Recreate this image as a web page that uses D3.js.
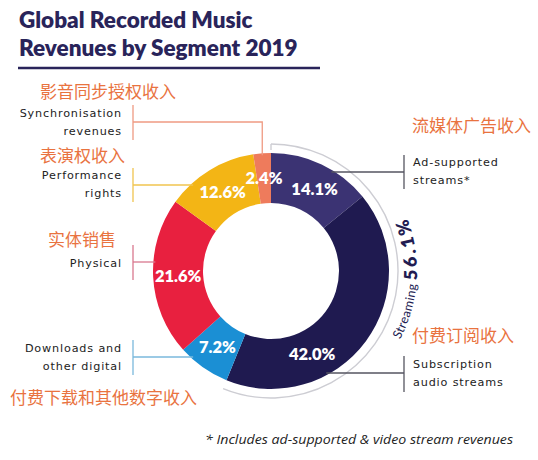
<!DOCTYPE html>
<html>
<head>
<meta charset="utf-8">
<script src="https://cdn.jsdelivr.net/npm/d3@7"></script>
<style>
  html, body { margin: 0; padding: 0; background: #ffffff; }
  svg { display: block; }
</style>
</head>
<body>
<svg id="chart" width="538" height="460"></svg>
<script>
// ---------------- DATA ----------------
const categories = [
  "Ad-supported streams*",
  "Subscription audio streams",
  "Downloads and other digital",
  "Physical",
  "Performance rights",
  "Synchronisation revenues"
];
const shares = [14.1, 42.0, 7.2, 21.6, 12.6, 2.4];
const shareLabels = ["14.1%", "42.0%", "7.2%", "21.6%", "12.6%", "2.4%"];
const englishLabels = [
  ["Ad-supported", "streams*"],
  ["Subscription", "audio streams"],
  ["Downloads and", "other digital"],
  ["Physical"],
  ["Performance", "rights"],
  ["Synchronisation", "revenues"]
];
const chineseLabels = [
  "流媒体广告收入",
  "付费订阅收入",
  "付费下载和其他数字收入",
  "实体销售",
  "表演权收入",
  "影音同步授权收入"
];
const streamingCategories = ["Ad-supported streams*", "Subscription audio streams"];
const streamingLabel = ["Streaming", "56.1%"];
const titleLines = ["Global Recorded Music", "Revenues by Segment 2019"];
const footnote = "* Includes ad-supported & video stream revenues";

// ---------------- STYLE / LAYOUT ----------------
const sliceColors = ["#3b3373", "#1f1a50", "#1b8fd4", "#e8203f", "#f3b515", "#ee7b5c"];
const lineColors  = ["#555560", "#555560", "#7ab8dc", "#d9788e", "#f0c44f", "#ef9a82"];
const navy = "#29245a";
const orange = "#e9733f";

const cx = 271, cy = 271, rIn = 68, rOut = 118;

const layout = {
  "Ad-supported streams*":        {side: "right", zhY: 132, enY: 166, lineY: 172, brTop: 155, brBot: 189},
  "Subscription audio streams":   {side: "right", zhY: 342, enY: 368, lineY: 373, brTop: 356, brBot: 392},
  "Downloads and other digital":  {side: "left",  zhY: 404, enY: 352, lineY: 357, brTop: 340, brBot: 375, zhX: 10},
  "Physical":                     {side: "left",  zhY: 246, enY: 267, lineY: 262, brTop: 245, brBot: 280, zhX: 48},
  "Performance rights":           {side: "left",  zhY: 162, enY: 179, lineY: 185, brTop: 168, brBot: 202, zhX: 40},
  "Synchronisation revenues":     {side: "left",  zhY: 98,  enY: 117, lineY: 122, brTop: 105, brBot: 140, zhX: 40, drop: true}
};
const labelFrac = {"Subscription audio streams": 0.68, "Ad-supported streams*": 0.55};

const color = d3.scaleOrdinal().domain(categories).range(sliceColors);
const lineColor = d3.scaleOrdinal().domain(categories).range(lineColors);

const svg = d3.select("#chart");

// ---------------- TITLE ----------------
svg.append("g").selectAll("text").data(titleLines).join("text")
  .attr("x", 19).attr("y", (d, i) => 28 + i * 28)
  .attr("font-family", "Lato, 'Open Sans', sans-serif")
  .attr("font-weight", 800).attr("font-size", 22.5)
  .attr("fill", navy).text(d => d);
svg.append("line").attr("x1", 18).attr("x2", 320).attr("y1", 68).attr("y2", 68)
  .attr("stroke", navy).attr("stroke-width", 2.5);

// ---------------- DONUT ----------------
const data = categories.map((c, i) => ({cat: c, value: shares[i], label: shareLabels[i], en: englishLabels[i], zh: chineseLabels[i]}));
const pie = d3.pie().sort(null).value(d => d.value);
const arcs = pie(data);
const arc = d3.arc().innerRadius(rIn).outerRadius(rOut);

const g = svg.append("g").attr("transform", `translate(${cx},${cy})`);

// leader lines
const lines = svg.append("g");
arcs.forEach(a => {
  const L = layout[a.data.cat];
  const col = lineColor(a.data.cat);
  const bx = L.side === "left" ? 133 : 404;
  lines.append("line").attr("x1", bx).attr("x2", bx).attr("y1", L.brTop).attr("y2", L.brBot)
    .attr("stroke", col).attr("stroke-width", 1.3);
  if (L.drop) {
    const mid = (a.startAngle + a.endAngle) / 2;
    const xTop = cx + (rOut - 2) * Math.sin(mid);
    const yTop = cy - (rOut - 2) * Math.cos(mid);
    lines.append("polyline")
      .attr("points", `${bx},${L.lineY} ${xTop},${L.lineY} ${xTop},${yTop}`)
      .attr("fill", "none").attr("stroke", col).attr("stroke-width", 1.3);
  } else {
    const dy = L.lineY - cy;
    const dx = Math.sqrt(Math.max(0, (rOut - 2) ** 2 - dy * dy));
    const xEnd = L.side === "left" ? cx - dx : cx + dx;
    lines.append("line").attr("x1", bx).attr("x2", xEnd).attr("y1", L.lineY).attr("y2", L.lineY)
      .attr("stroke", col).attr("stroke-width", 1.3);
  }
});

g.selectAll("path.slice").data(arcs).join("path")
  .attr("class", "slice")
  .attr("d", arc)
  .attr("fill", d => color(d.data.cat));

// percentage labels
const rLab = 93;
g.selectAll("text.pct").data(arcs).join("text")
  .attr("class", "pct")
  .attr("transform", d => {
    const f = labelFrac[d.data.cat] ?? 0.5;
    const ang = d.startAngle + (d.endAngle - d.startAngle) * f;
    return `translate(${rLab * Math.sin(ang)},${-rLab * Math.cos(ang)})`;
  })
  .attr("text-anchor", "middle").attr("dy", "0.36em")
  .attr("font-family", "Lato, 'Open Sans', sans-serif")
  .attr("font-weight", 800).attr("font-size", 16.5)
  .attr("fill", "#ffffff")
  .text(d => d.data.label);

// ---------------- STREAMING ARC ----------------
const streamArcs = arcs.filter(a => streamingCategories.includes(a.data.cat));
const sStart = d3.min(streamArcs, a => a.startAngle);
const sEnd = d3.max(streamArcs, a => a.endAngle);
const streamArc = d3.arc().innerRadius(127).outerRadius(127).startAngle(sStart).endAngle(sEnd);
g.append("path").attr("d", streamArc())
  .attr("fill", "none").attr("stroke", "#cdcdd3").attr("stroke-width", 1.4);
g.append("line").attr("x1", 0).attr("x2", 0).attr("y1", -127).attr("y2", -121)
  .attr("stroke", "#cdcdd3").attr("stroke-width", 1.4);

// text along arc
const rText = 146;
const tA0 = 118 * Math.PI / 180, tA1 = 55 * Math.PI / 180;
const p0 = [rText * Math.sin(tA0), -rText * Math.cos(tA0)];
const p1 = [rText * Math.sin(tA1), -rText * Math.cos(tA1)];
g.append("path").attr("id", "streamTextPath")
  .attr("d", `M${p0[0]},${p0[1]} A${rText},${rText} 0 0 0 ${p1[0]},${p1[1]}`)
  .attr("fill", "none");
const st = g.append("text").attr("fill", "#221c52")
  .attr("font-family", "Lato, 'Open Sans', sans-serif");
const tp = st.append("textPath").attr("href", "#streamTextPath").attr("startOffset", 0);
tp.append("tspan").attr("font-size", 12.5).attr("letter-spacing", 0.4).text(streamingLabel[0] + " ");
tp.append("tspan").attr("font-size", 18).attr("font-weight", 800).attr("letter-spacing", 3).text(streamingLabel[1]);

// ---------------- CATEGORY LABELS ----------------
const lab = svg.append("g");
arcs.forEach(a => {
  const L = layout[a.data.cat];
  const left = L.side === "left";
  const enX = left ? 122 : 413;
  lab.append("text")
    .attr("x", left ? L.zhX : 412).attr("y", L.zhY)
    .attr("font-family", "'Noto Sans CJK SC', sans-serif")
    .attr("font-size", 17).attr("fill", orange)
    .text(a.data.zh);
  lab.append("g").selectAll("text").data(a.data.en).join("text")
    .attr("x", enX).attr("y", (d, i) => L.enY + i * 17.5)
    .attr("text-anchor", left ? "end" : "start")
    .attr("font-family", "'DejaVu Sans', sans-serif")
    .attr("font-size", 11.2).attr("letter-spacing", 0.85)
    .attr("fill", "#222222")
    .text(d => d);
});

// ---------------- FOOTNOTE ----------------
svg.append("text").attr("x", 205).attr("y", 444)
  .attr("font-family", "'Open Sans', Lato, sans-serif")
  .attr("font-style", "italic").attr("font-size", 12.5)
  .attr("textLength", 308).attr("lengthAdjust", "spacingAndGlyphs")
  .attr("fill", "#222222")
  .text(footnote);
</script>
</body>
</html>
